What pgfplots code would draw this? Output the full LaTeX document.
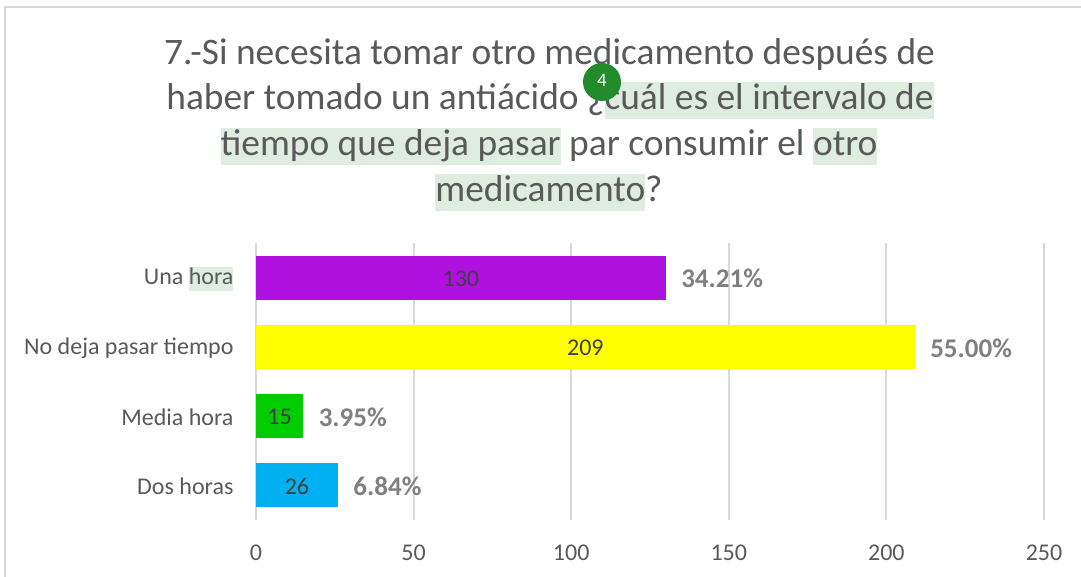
\documentclass[border=0pt]{standalone}
\usepackage{fontspec}
\setmainfont{Carlito}
\usepackage{xcolor}
\usepackage{pgfplots}
\usepackage{pgfplotstable}
\pgfplotsset{compat=1.18}
\definecolor{txt}{HTML}{595959}
\definecolor{cgrid}{HTML}{D9D9D9}
\definecolor{hl}{HTML}{DFEDE0}
\definecolor{badge}{HTML}{228B2B}
\definecolor{cpurple}{HTML}{B010E0}
\definecolor{cyellow}{HTML}{FFFF00}
\definecolor{cgreen}{HTML}{00CC00}
\definecolor{cblue}{HTML}{00B0F0}
\newcommand{\hlt}[1]{{\setlength{\fboxsep}{0pt}\colorbox{hl}{\rule[-9pt]{0pt}{37pt}#1}}}
\newcommand{\hls}[1]{{\setlength{\fboxsep}{0pt}\colorbox{hl}{\rule[-6pt]{0pt}{24pt}#1}}}

\pgfplotstableread{
pos val half pct
0 130 65 34.21
1 209 104.5 55.00
2 15 7.5 3.95
3 26 13 6.84
}\chartdata

\begin{document}
\begin{tikzpicture}[x=1pt,y=1pt]
\useasboundingbox (-256,-57) rectangle (825,520);
% card border
\draw[cgrid,line width=2pt] (-251,-57) -- (-251,513) -- (825,513);
\begin{axis}[
    at={(0,0)}, anchor=south west,
    scale only axis,
    width=788pt, height=277pt,
    xmin=0, xmax=250, ymin=-0.5, ymax=3.5,
    y dir=reverse,
    axis line style={draw=none},
    major tick length=0pt,
    xtick={0,50,100,150,200,250},
    ytick={0,1,2,3},
    yticklabels={Una \hls{hora},No deja pasar tiempo,Media hora,Dos horas},
    xmajorgrids,
    major grid style={draw=cgrid,line width=2pt},
    tick label style={text=txt,font=\fontsize{24}{27}\selectfont},
    yticklabel style={xshift=-19pt,yshift=-1pt},
    xticklabel style={yshift=-21pt},
    /pgf/number format/assume math mode=true,
  ]
\addplot[xbar,bar shift=0pt,bar width=44pt,draw=none,fill=cpurple] coordinates {(130,0)};
\addplot[xbar,bar shift=0pt,bar width=44pt,draw=none,fill=cyellow] coordinates {(209,1)};
\addplot[xbar,bar shift=0pt,bar width=44pt,draw=none,fill=cgreen] coordinates {(15,2)};
\addplot[xbar,bar shift=0pt,bar width=44pt,draw=none,fill=cblue] coordinates {(26,3)};
% counts in the middle of the bars
\addplot[draw=none,mark=none,point meta=explicit symbolic,
    nodes near coords,
    every node near coord/.style={anchor=center,yshift=-1pt,text=black!75,font=\fontsize{24}{27}\selectfont}]
    table[x=half,y=pos,meta=val] {\chartdata};
% percentages after the bars
\addplot[draw=none,mark=none,point meta=explicit symbolic,
    nodes near coords={\pgfplotspointmeta\%},
    every node near coord/.style={anchor=west,xshift=12pt,yshift=-1pt,text=black!50,font=\bfseries\fontsize{27}{30}\selectfont}]
    table[x=val,y=pos,meta=pct] {\chartdata};
\end{axis}
% title, one node per line
\begin{scope}[every node/.style={anchor=base,inner sep=0pt,text=txt,font=\fontsize{37.4}{40}\selectfont}]
\node at (293.5,455) {7.-Si necesita tomar otro medicamento después de};
\node at (294,410) {haber tomado un antiácido ¿\hlt{cuál es el intervalo de}};
\node at (293,364) {\hlt{tiempo que deja pasar} par consumir el \hlt{otro}};
\node at (293,318) {\hlt{medicamento}?};
\end{scope}
\fill[badge] (346,438) circle (19pt);
\node[text=white,font=\fontsize{19}{22}\selectfont] at (346,440) {4};
\end{tikzpicture}
\end{document}
